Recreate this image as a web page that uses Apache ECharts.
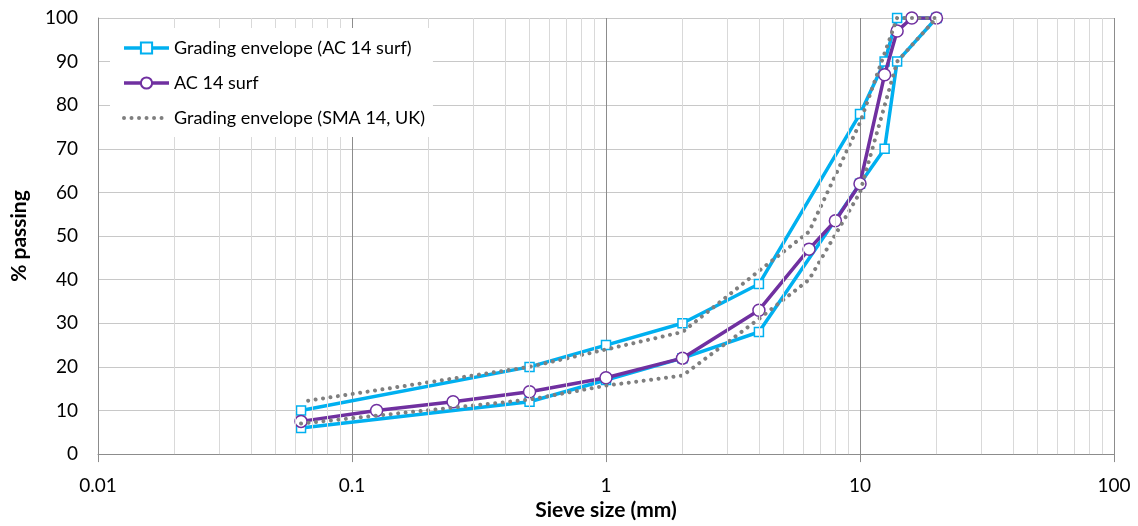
<!DOCTYPE html>
<html>
<head>
<meta charset="utf-8">
<script src="https://cdn.jsdelivr.net/npm/echarts@6/dist/echarts.min.js"></script>
<style>
html,body{margin:0;padding:0;background:#fff;}
#main{width:1138px;height:526px;}
</style>
</head>
<body>
<div id="main"></div>
<script>
// sieve sizes (mm) and % passing, envelopes go up the lower limit then back down the upper limit
var acEnvSieve = [0.063, 0.5, 1, 2, 4, 10, 12.5, 14, 20, 14, 12.5, 10, 4, 2, 1, 0.5, 0.063];
var acEnvPass  = [6, 12, 17, 22, 28, 62, 70, 90, 100, 100, 90, 78, 39, 30, 25, 20, 10];

var acSieve = [0.063, 0.125, 0.25, 0.5, 1, 2, 4, 6.3, 8, 10, 12.5, 14, 16, 20];
var acPass  = [7.5, 10, 12, 14.3, 17.5, 22, 33, 47, 53.5, 62, 87, 97, 100, 100];

var smaEnvSieve = [0.063, 0.5, 1, 2, 4, 6.3, 10, 14, 20, 14, 10, 6.3, 4, 2, 0.5, 0.063];
var smaEnvPass  = [7, 12.5, 15.7, 18, 31, 40, 60, 90, 100, 100, 76, 51, 42, 28, 20, 12];

// minor log gridlines
var minorTicks = [0.02,0.03,0.04,0.05,0.06,0.07,0.08,0.09,
                  0.2,0.3,0.4,0.5,0.6,0.7,0.8,0.9,
                  2,3,4,5,6,7,8,9,
                  20,30,40,50,60,70,80,90];

var names = ['Grading envelope (AC 14 surf)', 'AC 14 surf', 'Grading envelope (SMA 14, UK)'];

function pairs(xs, ys){
	var out = [];
	for(var i=0;i<xs.length;i++){ out.push([xs[i], ys[i]]); }
	return out;
}

var font = 'Lato, "Open Sans", sans-serif';
var chart = echarts.init(document.getElementById('main'));
var option = {
	animation: false,
	textStyle: { fontFamily: font },
	grid: { left: 98, right: 24, top: 18, bottom: 70 },
	legend: {
		data: [
			{ name: names[0], lineStyle: { width: 3.5 } },
			{ name: names[1], lineStyle: { width: 3.5 } },
			{ name: names[2], lineStyle: { width: 4 }, itemStyle: { opacity: 0 } }
		],
		orient: 'vertical',
		left: 110,
		top: 28,
		z: 20,
		padding: [11, 8, 10, 12],
		itemWidth: 45,
		itemHeight: 14,
		itemGap: 17,
		backgroundColor: '#fff',
		textStyle: { fontFamily: font, fontSize: 18, color: '#000' }
	},
	xAxis: {
		type: 'log',
		logBase: 10,
		min: 0.01,
		max: 100,
		name: 'Sieve size (mm)',
		nameLocation: 'middle',
		nameGap: 45,
		nameTextStyle: { fontFamily: font, fontSize: 21, fontWeight: 'bold', color: '#000' },
		axisLine: { lineStyle: { color: '#8c8c8c', width: 1 } },
		axisTick: { show: true, length: 8, lineStyle: { color: '#8c8c8c' } },
		axisLabel: {
			margin: 22, fontSize: 19, color: '#000', fontFamily: font,
			formatter: function(v){ return String(+v.toPrecision(3)); }
		},
		splitLine: { show: true, lineStyle: { color: '#8c8c8c', width: 1 } }
	},
	yAxis: {
		type: 'value',
		min: 0,
		max: 100,
		interval: 10,
		name: '% passing',
		nameLocation: 'middle',
		nameRotate: 90,
		nameGap: 68,
		nameTextStyle: { fontFamily: font, fontSize: 21, fontWeight: 'bold', color: '#000' },
		axisLine: { show: true, lineStyle: { color: '#8c8c8c', width: 1 } },
		axisTick: { show: false },
		axisLabel: { margin: 20, fontSize: 19, color: '#000', fontFamily: font },
		splitLine: { show: true, lineStyle: { color: '#c8c8c8', width: 1 } }
	},
	series: [
		{
			name: 'minor',
			type: 'line',
			z: 1,
			silent: true,
			data: [[1, 0]],
			showSymbol: false,
			lineStyle: { opacity: 0 },
			markLine: {
				silent: true,
				symbol: 'none',
				label: { show: false },
				lineStyle: { color: '#d9d9d9', width: 1, type: 'solid' },
				data: minorTicks.map(function(v){ return { xAxis: v }; })
			}
		},
		{
			name: names[0],
			type: 'line',
			z: 2,
			data: pairs(acEnvSieve, acEnvPass),
			symbol: 'rect',
			symbolSize: 9,
			lineStyle: { color: '#00B0F0', width: 3.5 },
			itemStyle: { color: '#fff', borderColor: '#00B0F0', borderWidth: 1.5 }
		},
		{
			name: names[1],
			type: 'line',
			z: 3,
			data: pairs(acSieve, acPass),
			symbol: 'circle',
			symbolSize: 12,
			lineStyle: { color: '#7030A0', width: 3.5 },
			itemStyle: { color: '#fff', borderColor: '#7030A0', borderWidth: 1.5 }
		},
		{
			name: names[2],
			type: 'line',
			z: 4,
			data: pairs(smaEnvSieve, smaEnvPass),
			showSymbol: false,
			symbol: 'none',
			lineStyle: { color: '#7f7f7f', width: 4, type: [0.01, 7.5], cap: 'round' },
			itemStyle: { color: '#7f7f7f' }
		}
	]
};
chart.setOption(option);
</script>
</body>
</html>
